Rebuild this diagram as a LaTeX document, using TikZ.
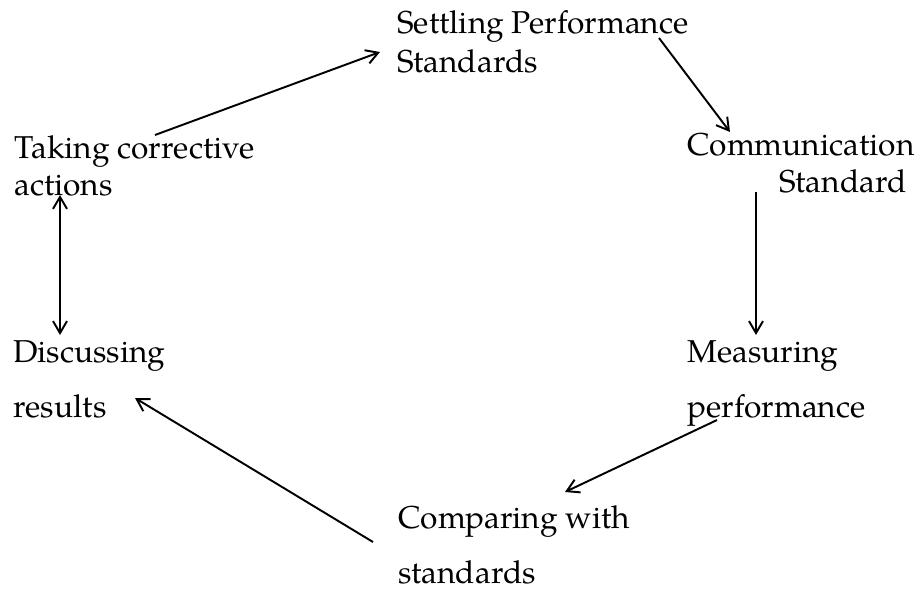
\documentclass[tikz,border=0pt]{standalone}
\usepackage{fontspec}
\setmainfont{texgyrepagella-regular.otf}
\usetikzlibrary{arrows.meta,calc}
\begin{document}
\begin{tikzpicture}[x=0.2mm,y=-0.2mm,
  lbl/.style={inner sep=0pt,anchor=base west,font=\fontsize{18}{22}\selectfont},
  flow/.style={line width=1.1pt,-{Straight Barb[length=2.4mm,width=2.8mm,line width=1.1pt]}},
  both/.style={line width=1.1pt,{Straight Barb[length=2.4mm,width=2.8mm,line width=1.1pt]}-{Straight Barb[length=2.4mm,width=2.8mm,line width=1.1pt]}}]
\useasboundingbox (0,0) rectangle (921,591);

% labels of the cycle, one node per line
\node[lbl] (set1) at (397,33) {Settling Performance};
\node[lbl] (set2) at (397,72) {Standards};
\node[lbl] (comm1) at (687,155) {Communication};
\node[lbl,anchor=base east] (comm2) at (907,192) {Standard};
\node[lbl] (meas1) at (687,362) {Measuring};
\node[lbl] (meas2) at (687,417) {performance};
\node[lbl] (comp1) at (398,528) {Comparing with};
\node[lbl] (comp2) at (398,583) {standards};
\node[lbl] (disc1) at (13,362) {Discussing};
\node[lbl] (disc2) at (13,417) {results};
\node[lbl] (take1) at (14,158) {Taking corrective};
\node[lbl] (take2) at (14,195) {actions};

% connectors
\draw[flow] ($(take1.base west)+(141,-23)$) -- ($(set1.base west)+(-17,19)$);
\draw[flow] ($(set1.base west)+(262,5)$) -- ($(comm1.base west)+(43,-23)$);
\draw[flow] ($(comm1.base west)+(69,37)$) -- ($(meas1.base west)+(69,-27)$);
\draw[flow] ($(meas2.base west)+(30,3)$) -- ($(comp1.base west)+(167,-36)$);
\draw[flow] ($(comp1.base west)+(-25,14)$) -- ($(disc2.base west)+(122,-19)$);
\draw[both] ($(take2.base west)+(46,0)$) -- ($(disc1.base west)+(47,-27)$);
\end{tikzpicture}
\end{document}
